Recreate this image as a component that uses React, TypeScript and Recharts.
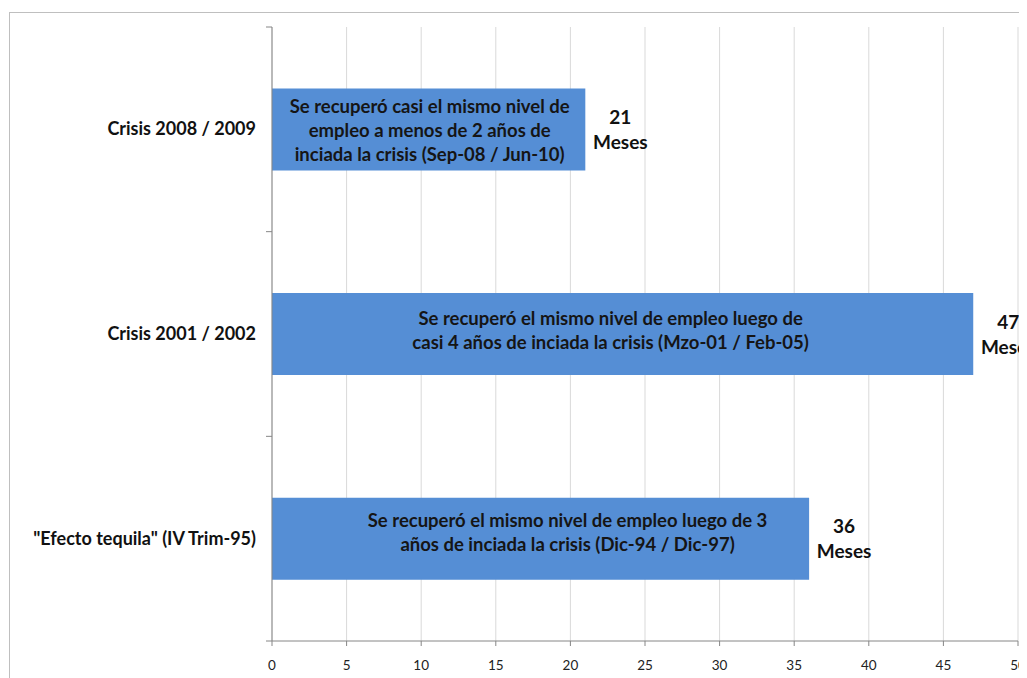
import React from 'react';
import { BarChart, Bar, XAxis, YAxis, CartesianGrid, LabelList } from 'recharts';

// Crisis episodes, top to bottom
const crises = ['Crisis 2008 / 2009', 'Crisis 2001 / 2002', '"Efecto tequila" (IV Trim-95)'];

// Months until the employment level was recovered
const monthsToRecover = [21, 47, 36];

const notes = [
  ['Se recuperó casi el mismo nivel de', 'empleo a menos de 2 años de', 'inciada la crisis (Sep-08 / Jun-10)'],
  ['Se recuperó el mismo nivel de empleo luego de', 'casi 4 años de inciada la crisis (Mzo-01 / Feb-05)'],
  ['Se recuperó el mismo nivel de empleo luego de 3', 'años de inciada la crisis (Dic-94 / Dic-97)'],
];

const xTicks = [0, 5, 10, 15, 20, 25, 30, 35, 40, 45, 50];
const unit = 'Meses';

const data = crises.map((name, i) => ({ name, months: monthsToRecover[i] }));

const FONT = 'Lato, "Noto Sans", sans-serif';
const AXIS = '#868686';
const PLOT_H = 614;
const BAND = PLOT_H / crises.length;

// the text boxes inside the bars are not exactly centred
const noteShift = [
  { dx: 1, dy: 1 },
  { dx: -12, dy: -4 },
  { dx: 27, dy: -6 },
];

const CategoryTick = (props: any) => {
  const { x, y, payload, index } = props;
  const axisX = x + 16;
  const top = y - BAND / 2;
  const bottom = y + BAND / 2;
  return (
    <g>
      <line x1={axisX - 6} x2={axisX} y1={top} y2={top} stroke={AXIS} />
      {index === crises.length - 1 && (
        <line x1={axisX - 6} x2={axisX} y1={bottom} y2={bottom} stroke={AXIS} />
      )}
      <text
        x={x}
        y={y + 6}
        textAnchor="end"
        fontFamily={FONT}
        fontWeight={700}
        fontSize={18}
        fill="#111"
      >
        {payload.value}
      </text>
    </g>
  );
};

const NoteLabel = (props: any) => {
  const { x, y, width, height, index } = props;
  const lines = notes[index];
  const cx = x + width / 2 + noteShift[index].dx;
  const cy = y + height / 2 + noteShift[index].dy;
  const step = 24;
  const start = cy - ((lines.length - 1) * step) / 2;
  return (
    <text textAnchor="middle" fontFamily={FONT} fontWeight={700} fontSize={18.5} fill="#151515">
      {lines.map((line: string, i: number) => (
        <tspan key={i} x={cx} y={start + i * step + 6.5}>
          {line}
        </tspan>
      ))}
    </text>
  );
};

const MonthsLabel = (props: any) => {
  const { x, y, width, height, value } = props;
  const cx = x + width + 35;
  const cy = y + height / 2;
  return (
    <text textAnchor="middle" fontFamily={FONT} fontWeight={700} fontSize={19} fill="#111">
      <tspan x={cx} y={cy - 12 + 6.5}>{value}</tspan>
      <tspan x={cx} y={cy + 13 + 6.5}>{unit}</tspan>
    </text>
  );
};

export default function App() {
  return (
    <div style={{ position: 'relative', width: 1060, height: 670, overflow: 'hidden' }}>
      <style>{'html,body{overflow:hidden}'}</style>
      <div
        style={{
          position: 'absolute',
          left: 1,
          top: 4,
          width: 1100,
          height: 800,
          border: '1px solid #bfbfbf',
        }}
      />
      <div style={{ position: 'absolute', left: 0, top: 0 }}>
        <BarChart
          width={1060}
          height={670}
          data={data}
          layout="vertical"
          margin={{ top: 19, right: 50, left: 0, bottom: 0 }}
          barCategoryGap="30%"
        >
          <CartesianGrid horizontal={false} stroke="#d9d9d9" />
          <XAxis
            type="number"
            domain={[0, 50]}
            ticks={xTicks}
            interval={0}
            height={37}
            tickSize={5}
            tickMargin={14}
            stroke={AXIS}
            tick={{ fontFamily: FONT, fontSize: 13.5, fill: '#222' }}
          />
          <YAxis
            type="category"
            dataKey="name"
            width={264}
            tickLine={false}
            tickSize={0}
            tickMargin={16}
            stroke={AXIS}
            tick={<CategoryTick />}
          />
          <Bar dataKey="months" fill="#558ed5" isAnimationActive={false}>
            <LabelList dataKey="months" content={<NoteLabel />} />
            <LabelList dataKey="months" content={<MonthsLabel />} />
          </Bar>
        </BarChart>
      </div>
    </div>
  );
}
